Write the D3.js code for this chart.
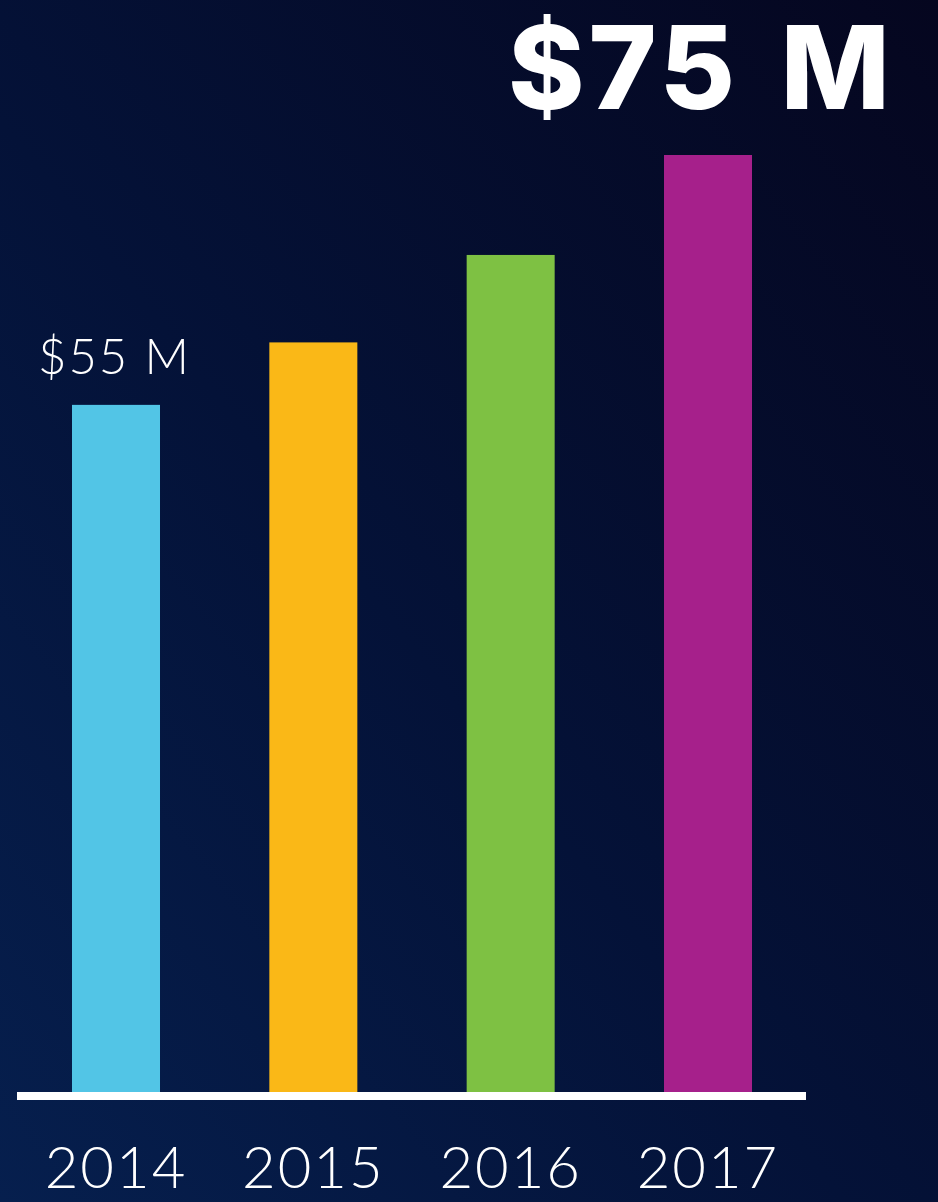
<!DOCTYPE html>
<html>
<head>
<meta charset="utf-8">
<script src="https://cdn.jsdelivr.net/npm/d3@7"></script>
<style>
  html, body { margin: 0; padding: 0; background: #040b2e; }
  svg { display: block; }
</style>
</head>
<body>
<div id="chart"></div>
<script>
const width = 938, height = 1202;

// data
const years = ["2014", "2015", "2016", "2017"];
const revenue = [55, 60, 67, 75];
const barColors = ["#52c5e6", "#fab817", "#7ec143", "#a6208b"];
const valueLabels = ["$55 M", "", "", "$75 M"];

const baseY = 1092;

const x = d3.scaleBand()
    .domain(years)
    .range([72, 752])
    .paddingInner(0.554)
    .paddingOuter(0);

const y = d3.scaleLinear()
    .domain([0, 75])
    .range([baseY, 155]);

const svg = d3.select("#chart").append("svg")
    .attr("width", width)
    .attr("height", height);

// background gradient, lighter blue bottom-left to near-black navy top-right
const defs = svg.append("defs");
const grad = defs.append("linearGradient")
    .attr("id", "bg")
    .attr("x1", "0").attr("y1", "1")
    .attr("x2", "1").attr("y2", "0");
grad.append("stop").attr("offset", "0%").attr("stop-color", "#061f4e");
grad.append("stop").attr("offset", "45%").attr("stop-color", "#041238");
grad.append("stop").attr("offset", "100%").attr("stop-color", "#05061f");

svg.append("rect")
    .attr("width", width)
    .attr("height", height)
    .attr("fill", "url(#bg)");

svg.selectAll("rect.bar")
    .data(revenue)
    .enter()
    .append("rect")
    .attr("class", "bar")
    .attr("x", (d, i) => x(years[i]))
    .attr("y", d => y(d))
    .attr("width", x.bandwidth())
    .attr("height", d => y(0) - y(d))
    .attr("fill", (d, i) => barColors[i]);

// baseline
svg.append("line")
    .attr("x1", 17)
    .attr("x2", 806)
    .attr("y1", y(0) + 4)
    .attr("y2", y(0) + 4)
    .attr("stroke", "#ffffff")
    .attr("stroke-width", 8);

// year labels
svg.selectAll("text.year")
    .data(years)
    .enter()
    .append("text")
    .attr("class", "year")
    .attr("x", d => x(d) + x.bandwidth() / 2)
    .attr("y", 1188)
    .attr("text-anchor", "middle")
    .attr("fill", "#ffffff")
    .style("font-family", "Lato, 'Open Sans', sans-serif")
    .style("font-weight", "300")
    .style("font-size", "58px")
    .style("letter-spacing", "2px")
    .text(d => d);

// value labels
svg.append("text")
    .attr("x", 38)
    .attr("y", y(revenue[0]) - 31)
    .attr("fill", "#ffffff")
    .style("font-family", "Lato, 'Open Sans', sans-serif")
    .style("font-weight", "300")
    .style("font-size", "49px")
    .style("letter-spacing", "2px")
    .text(valueLabels[0]);

svg.append("text")
    .attr("x", 894)
    .attr("y", y(revenue[3]) - 46)
    .attr("text-anchor", "end")
    .attr("fill", "#ffffff")
    .style("font-family", "Inter, 'Open Sans', sans-serif")
    .style("font-weight", "800")
    .style("font-size", "116px")
    .style("letter-spacing", "4px")
    .style("word-spacing", "12px")
    .text(valueLabels[3]);
</script>
</body>
</html>
